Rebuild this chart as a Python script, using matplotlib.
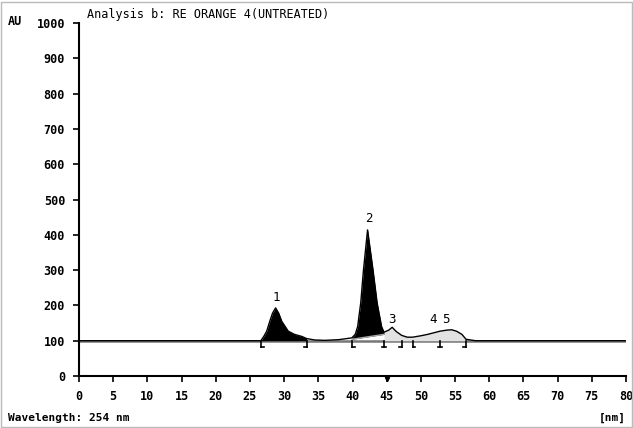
import numpy as np
import matplotlib as mpl
mpl.use('Agg')
import matplotlib.pyplot as plt
from matplotlib.patches import Rectangle

# chromatogram trace (min, AU)
t = [0, 26.6, 27.05, 27.45, 27.9, 28.3, 28.75, 29.2, 29.65, 30.6, 31.5, 32.6,
     33.3, 34.5, 36.0, 38.0, 39.9, 40.4, 40.75, 41.2, 41.6, 42.2, 43.0, 43.6,
     44.25, 44.6, 45.3, 45.8, 46.4, 47.2, 48.0, 48.8, 50.0, 51.0, 52.0,
     52.8, 53.8, 54.5, 55.2, 56.0, 56.6, 58.0, 80.0]
au = [100, 100, 113, 127, 155, 178, 193, 178, 155, 127, 118, 112,
      106, 102, 101, 103, 108, 118, 140, 207, 300, 414, 300, 207,
      140, 124, 130, 138, 126, 115, 110, 110, 114, 118, 123,
      127, 130, 131, 127, 118, 104, 100, 100]

# integration marks: start '[', split '|', end ']'
mark_pos = [26.6, 33.3, 39.9, 44.6, 47.2, 48.8, 52.8, 56.6]
mark_kind = ['[', ']', '[', '|', ']', '[', '|', ']']

peak_num = ['1', '2', '3', '4', '5']
peak_t = [28.9, 42.4, 45.8, 51.8, 53.7]
peak_y = [205, 428, 143, 143, 143]

xticks = list(range(0, 81, 5))
yticks = list(range(0, 1001, 100))

mono = 'DejaVu Sans Mono'
t = np.array(t)
au = np.array(au)

fig = plt.figure(figsize=(6.33, 4.28), dpi=100)
ax = fig.add_axes([0.1248, 0.1215, 0.8642, 0.8245])

# baseline at 100 AU
ax.plot([0, 80], [100, 100], color='#777777', lw=1.8, zorder=1)

# peak 1, flat baseline
m1 = (t >= 26.6) & (t <= 33.3)
ax.fill_between(t, 100, au, where=m1, color='black', lw=0, zorder=3)

# peak 2, sloping baseline
m2 = (t >= 39.9) & (t <= 44.6)
base2 = np.interp(t, [39.9, 44.6], [104, 118])
ax.fill_between(t, base2, au, where=m2, color='black', lw=0, zorder=3)
ax.plot([39.9, 44.6], [104, 118], color='#aaaaaa', lw=1, zorder=4)

# small peaks 3-5 outlined
m3 = (t >= 44.6) & (t <= 56.6)
ax.fill_between(t, 100, au, where=m3, color='#e2e2e2', lw=0, zorder=2)
ax.plot(t, au, color='black', lw=1.0, zorder=3)

# integration marks below the baseline
for p, k in zip(mark_pos, mark_kind):
    ax.plot([p, p], [100, 82], color='black', lw=1.2, zorder=4)
    if k == '[':
        ax.plot([p, p + 0.4], [82, 82], color='black', lw=1.2, zorder=4)
    elif k == ']':
        ax.plot([p - 0.4, p], [82, 82], color='black', lw=1.2, zorder=4)
    else:
        ax.plot([p - 0.35, p + 0.35], [82, 82], color='black', lw=1.2, zorder=4)

for s, x, y in zip(peak_num, peak_t, peak_y):
    ax.text(x, y, s, ha='center', va='bottom', family=mono, fontsize=9)

# marker on the time axis
ax.plot([45], [-8], marker='v', color='black', ms=3, clip_on=False)

ax.set_xlim(0, 80)
ax.set_ylim(0, 1000)
ax.set_xticks(xticks)
ax.set_yticks(yticks)
ax.set_xticklabels([str(v) for v in xticks], family=mono, fontsize=8.5, weight='bold')
ax.set_yticklabels([str(v) for v in yticks], family=mono, fontsize=8.5, weight='bold')
ax.tick_params(direction='out', length=4, width=1.2, pad=6)
for side in ['top', 'right']:
    ax.spines[side].set_visible(False)
for side in ['left', 'bottom']:
    ax.spines[side].set_linewidth(1.5)

fig.text(0.137, 0.967, 'Analysis b: RE ORANGE 4(UNTREATED)', family=mono,
         fontsize=8.5, va='center')
fig.text(0.013, 0.949, 'AU', family=mono, fontsize=8.5, weight='bold', va='center')
fig.text(0.013, 0.023, 'Wavelength: 254 nm', family=mono, fontsize=8,
         weight='bold', va='center')
fig.text(0.989, 0.023, '[nm]', family=mono, fontsize=8, weight='bold',
         va='center', ha='right')

# thin grey frame round the printout
fig.patches.append(Rectangle((0.002, 0.003), 0.996, 0.992, transform=fig.transFigure,
                             fill=False, edgecolor='#bbbbbb', lw=1))

fig.savefig('out.png', dpi=100)
